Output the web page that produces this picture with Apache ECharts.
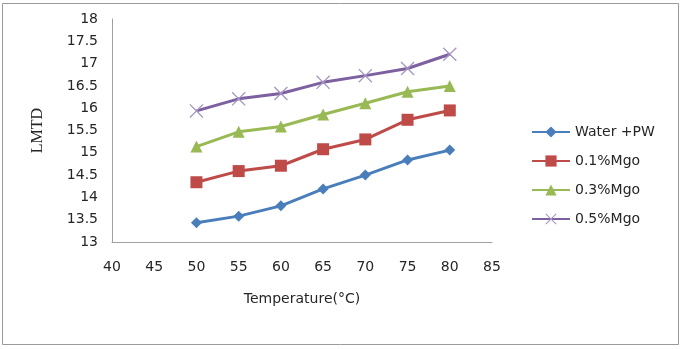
<!DOCTYPE html>
<html><head><meta charset="utf-8">
<script src="https://cdn.jsdelivr.net/npm/echarts@6/dist/echarts.min.js"></script>
<style>html,body{margin:0;padding:0;background:#fff}#c{width:681px;height:349px}</style>
</head><body><div id="c"></div>
<script>
const temperatures = [50, 55, 60, 65, 70, 75, 80];
const seriesNames = ['Water +PW', '0.1%Mgo', '0.3%Mgo', '0.5%Mgo'];
const waterPW = [13.43, 13.58, 13.81, 14.19, 14.50, 14.84, 15.06];
const mgo01 = [14.34, 14.59, 14.71, 15.08, 15.30, 15.74, 15.95];
const mgo03 = [15.14, 15.47, 15.59, 15.86, 16.11, 16.37, 16.50];
const mgo05 = [15.94, 16.21, 16.33, 16.58, 16.73, 16.89, 17.21];
const xTicks = [40, 45, 50, 55, 60, 65, 70, 75, 80, 85];
const yTicks = [13, 13.5, 14, 14.5, 15, 15.5, 16, 16.5, 17, 17.5, 18];

const colors = ['#4a7ebb', '#be4b48', '#98b954', '#7d60a0'];
const markerColors = ['#4a7ebb', '#be4b48', '#98b954', '#a596c2'];
const crossPath = 'path://M0,0.8L0.8,0L6,5.2L11.2,0L12,0.8L6.8,6L12,11.2L11.2,12L6,6.8L0.8,12L0,11.2L5.2,6Z';
const symbols = ['diamond', 'rect', 'triangle', crossPath];
const symbolSizes = [11, 12, 12, 14];
const values = [waterPW, mgo01, mgo03, mgo05];
const font = '"DejaVu Sans", sans-serif';

const chart = echarts.init(document.getElementById('c'), null, {renderer: 'canvas'});
chart.setOption({
  animation: false,
  graphic: [{type: 'rect', shape: {x: 2.5, y: 3.5, width: 676, height: 341}, style: {fill: 'none', stroke: '#9a9a9a', lineWidth: 1}}],
  grid: {left: 112, top: 19, right: 189, bottom: 107},
  legend: {
    orient: 'vertical', left: 526, top: 120, itemGap: 15, itemWidth: 38, itemHeight: 14,
    data: seriesNames,
    textStyle: {fontFamily: font, fontSize: 14, color: '#262626'}
  },
  xAxis: {
    type: 'value', min: xTicks[0], max: xTicks[xTicks.length - 1], interval: 5,
    name: 'Temperature(°C)', nameLocation: 'middle', nameGap: 50,
    nameTextStyle: {fontFamily: font, fontSize: 14, color: '#262626'},
    axisLine: {lineStyle: {color: '#a0a0a0'}},
    axisTick: {show: false}, splitLine: {show: false},
    axisLabel: {fontFamily: font, fontSize: 14, color: '#262626', margin: 18}
  },
  yAxis: {
    type: 'value', min: yTicks[0], max: yTicks[yTicks.length - 1], interval: 0.5,
    name: 'LMTD', nameLocation: 'middle', nameGap: 66, nameRotate: 90,
    nameTextStyle: {fontFamily: '"Liberation Serif", serif', fontSize: 16, color: '#262626'},
    axisLine: {show: true, lineStyle: {color: '#a0a0a0'}},
    axisTick: {show: false}, splitLine: {show: false},
    axisLabel: {fontFamily: font, fontSize: 14, color: '#262626', margin: 14}
  },
  series: seriesNames.map((n, i) => ({
    name: n, type: 'line',
    data: temperatures.map((t, j) => [t, values[i][j]]),
    symbol: symbols[i], symbolSize: symbolSizes[i],
    lineStyle: {color: colors[i], width: 3},
    itemStyle: {color: markerColors[i]}
  }))
});
</script></body></html>
